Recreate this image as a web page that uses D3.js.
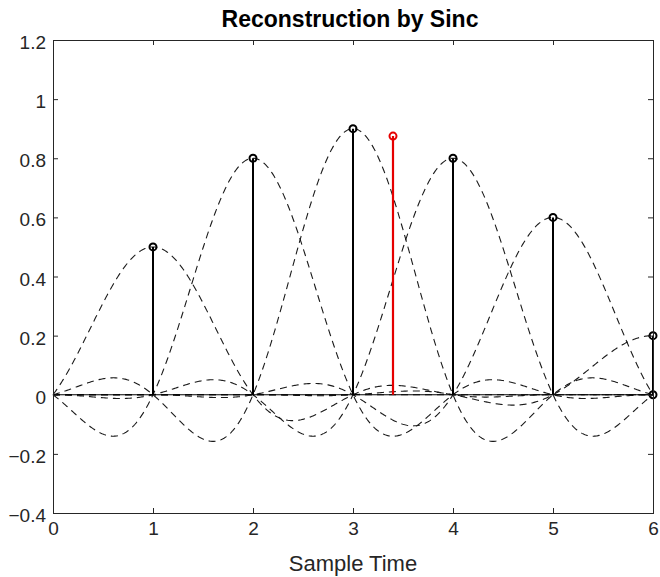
<!DOCTYPE html>
<html>
<head>
<meta charset="utf-8">
<script src="https://cdn.jsdelivr.net/npm/d3@7"></script>
<style>
  body { margin: 0; background: #fff; }
  svg { font-family: "Liberation Sans", Arial, Helvetica, sans-serif; }
</style>
</head>
<body>
<svg width="660" height="577"></svg>
<script>
// samples
const sampleTimes = [0, 1, 2, 3, 4, 5, 6];
const sampleValues = [0, 0.5, 0.8, 0.9, 0.8, 0.6, 0.2];
// extra marker on the baseline at the last sample
const baseMarkerTimes = [6];
const baseMarkerValues = [0];
// interpolated point (red)
const interpTimes = [3.4];
const interpValues = [0.875];
// ticks
const xTicks = [0, 1, 2, 3, 4, 5, 6];
const yTicks = [-0.4, -0.2, 0, 0.2, 0.4, 0.6, 0.8, 1, 1.2];
const lanczosA = 4;

var svg = d3.select("svg");
const plotLeft = 53, plotRight = 653, plotTop = 40, plotBottom = 513;
const axisColor = "#262626";

var x = d3.scaleLinear().domain([0, 6]).range([plotLeft, plotRight]);
var y = d3.scaleLinear().domain([-0.4, 1.2]).range([plotBottom, plotTop]);

function sinc(v) {
    if (v === 0) return 1;
    return Math.sin(Math.PI * v) / (Math.PI * v);
}
// windowed sinc kernel
function kernel(v) {
    if (Math.abs(v) >= lanczosA) return 0;
    return sinc(v) * sinc(v / lanczosA);
}

var plot = svg.append("g");

// dashed kernel curves, one per sample
var grid = d3.range(0, 6.0001, 0.01);
var line = d3.line().x(function (d) { return x(d[0]); }).y(function (d) { return y(d[1]); });
sampleTimes.forEach(function (n, i) {
    var pts = grid.map(function (t) { return [t, sampleValues[i] * kernel(t - n)]; });
    plot.append("path")
        .attr("d", line(pts))
        .attr("fill", "none")
        .attr("stroke", "#1a1a1a")
        .attr("stroke-width", 1.1)
        .attr("stroke-dasharray", "7,5");
});

// stem baseline
plot.append("line")
    .attr("x1", x(0)).attr("x2", x(6))
    .attr("y1", y(0)).attr("y2", y(0))
    .attr("stroke", "#000").attr("stroke-width", 1.2);

// stems
var stems = sampleTimes.map(function (t, i) { return { t: t, v: sampleValues[i] }; })
    .filter(function (d) { return d.v !== 0; });
plot.selectAll("line.stem")
    .data(stems)
    .enter()
    .append("line")
    .attr("class", "stem")
    .attr("x1", function (d) { return x(d.t); })
    .attr("x2", function (d) { return x(d.t); })
    .attr("y1", y(0))
    .attr("y2", function (d) { return y(d.v); })
    .attr("stroke", "#000")
    .attr("stroke-width", 2);
plot.selectAll("circle.stem")
    .data(stems)
    .enter()
    .append("circle")
    .attr("class", "stem")
    .attr("cx", function (d) { return x(d.t); })
    .attr("cy", function (d) { return y(d.v); })
    .attr("r", 3.5)
    .attr("fill", "none")
    .attr("stroke", "#000")
    .attr("stroke-width", 2);
plot.selectAll("circle.base")
    .data(baseMarkerTimes)
    .enter()
    .append("circle")
    .attr("class", "base")
    .attr("cx", function (d) { return x(d); })
    .attr("cy", function (d, i) { return y(baseMarkerValues[i]); })
    .attr("r", 3.5)
    .attr("fill", "none")
    .attr("stroke", "#000")
    .attr("stroke-width", 2);

// interpolated value
plot.selectAll("line.interp")
    .data(interpTimes)
    .enter()
    .append("line")
    .attr("class", "interp")
    .attr("x1", function (d) { return x(d); })
    .attr("x2", function (d) { return x(d); })
    .attr("y1", y(0))
    .attr("y2", function (d, i) { return y(interpValues[i]); })
    .attr("stroke", "#e60000")
    .attr("stroke-width", 2.2);
plot.selectAll("circle.interp")
    .data(interpTimes)
    .enter()
    .append("circle")
    .attr("class", "interp")
    .attr("cx", function (d) { return x(d); })
    .attr("cy", function (d, i) { return y(interpValues[i]); })
    .attr("r", 3.5)
    .attr("fill", "none")
    .attr("stroke", "#e60000")
    .attr("stroke-width", 2);

// axes (box with inward ticks)
function styleAxis(g) {
    g.select(".domain").attr("stroke", axisColor).attr("stroke-width", 1);
    g.selectAll(".tick line").attr("stroke", axisColor);
    g.selectAll(".tick text").attr("fill", axisColor).style("font-size", "19px");
}
svg.append("g")
    .attr("transform", "translate(0," + plotBottom + ")")
    .call(d3.axisBottom(x).tickValues(xTicks).tickSizeInner(-5).tickSizeOuter(0).tickPadding(9).tickFormat(d3.format("")))
    .call(styleAxis);
svg.append("g")
    .attr("transform", "translate(0," + plotTop + ")")
    .call(d3.axisTop(x).tickValues(xTicks).tickSizeInner(-5).tickSizeOuter(0).tickFormat(""))
    .call(styleAxis);
svg.append("g")
    .attr("transform", "translate(" + plotLeft + ",0)")
    .call(d3.axisLeft(y).tickValues(yTicks).tickSizeInner(-5).tickSizeOuter(0).tickPadding(7)
        .tickFormat(function (d) { return d3.format("")(+d.toFixed(1)); }))
    .call(styleAxis)
    .selectAll(".tick text").attr("dy", "0.45em");
svg.append("g")
    .attr("transform", "translate(" + plotRight + ",0)")
    .call(d3.axisRight(y).tickValues(yTicks).tickSizeInner(-5).tickSizeOuter(0).tickFormat(""))
    .call(styleAxis);
svg.selectAll(".domain").attr("stroke-linecap", "square");

// title and label
svg.append("text")
    .attr("x", 350)
    .attr("y", 27)
    .attr("text-anchor", "middle")
    .style("font-size", "23px")
    .style("font-weight", "bold")
    .attr("fill", "#000")
    .text("Reconstruction by Sinc");
svg.append("text")
    .attr("x", (plotLeft + plotRight) / 2)
    .attr("y", 571)
    .attr("text-anchor", "middle")
    .style("font-size", "22px")
    .attr("fill", axisColor)
    .text("Sample Time");
</script>
</body>
</html>
